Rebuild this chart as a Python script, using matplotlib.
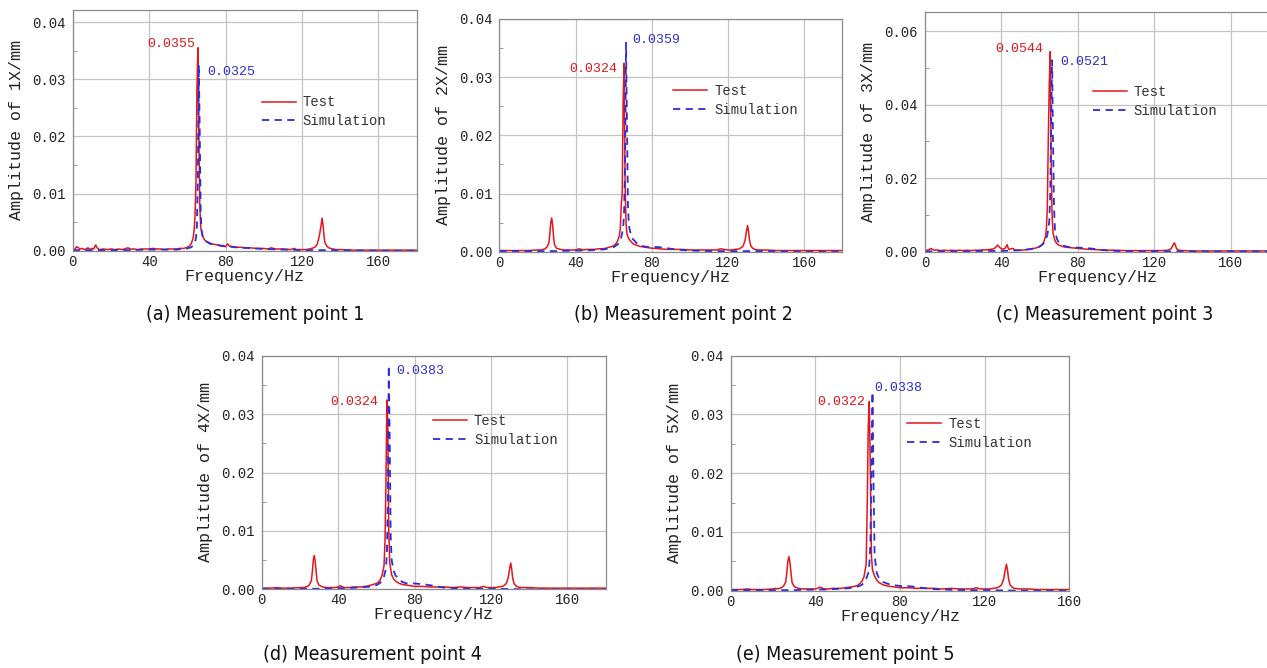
import matplotlib
matplotlib.use("Agg")
import matplotlib.pyplot as plt
from matplotlib.ticker import MultipleLocator, FormatStrFormatter

# ---- data (frequency in Hz, amplitude in mm) ----
a_test_f = [0, 1, 2, 3, 4, 5, 6, 7, 8, 9, 10, 11, 12, 13, 14, 16, 18, 20, 22, 24, 26, 28, 29, 30,
            32, 34, 36, 38, 40, 42, 44, 46, 48, 50, 52, 54, 56, 58, 60, 61, 62, 63, 63.5, 64, 64.5,
            65, 65.5, 66, 66.5, 67, 68, 69, 70, 72, 74, 76, 78, 80, 81, 82, 84, 86, 88, 90, 93, 96,
            100, 102, 104, 106, 110, 114, 116, 117, 120, 122, 124, 126, 127, 128, 129, 130, 130.5,
            131, 131.5, 132, 133, 134, 136, 138, 140, 145, 150, 160, 170, 180]
a_test_amp = [0.0003, 0.0002, 0.0007, 0.0005, 0.0003, 0.0004, 0.0002, 0.0003, 0.0005, 0.0002, 0.0004,
              0.0003, 0.0010, 0.0004, 0.0002, 0.0003, 0.0002, 0.0003, 0.0002, 0.0003, 0.0002, 0.0004,
              0.0005, 0.0003, 0.0003, 0.0002, 0.0003, 0.0003, 0.0003, 0.0004, 0.0003, 0.0003, 0.0002,
              0.0003, 0.0003, 0.0003, 0.0004, 0.0004, 0.0006, 0.0008, 0.0012, 0.0022, 0.0035, 0.0060,
              0.0120, 0.0280, 0.0355, 0.0200, 0.0080, 0.0040, 0.0025, 0.0019, 0.0016, 0.0013, 0.0011,
              0.0010, 0.0008, 0.0007, 0.0012, 0.0008, 0.0007, 0.0006, 0.0006, 0.0005, 0.0005, 0.0004,
              0.0004, 0.0003, 0.0005, 0.0003, 0.0003, 0.0002, 0.0004, 0.0002, 0.0002, 0.0002, 0.0003,
              0.0005, 0.0007, 0.0012, 0.0025, 0.0045, 0.0057, 0.0045, 0.0025, 0.0014, 0.0008, 0.0005,
              0.0003, 0.0002, 0.0002, 0.0001, 0.0001, 0.0001, 0.0001, 0.0001]
a_sim_f = [0, 10, 20, 30, 40, 50, 55, 57, 58, 59, 60, 62, 63, 64, 64.5, 65, 65.5, 66, 66.5, 67, 67.5,
           68, 69, 70, 72, 75, 80, 85, 90, 95, 100, 110, 120, 130, 140, 160, 180]
a_sim_amp = [0.0001, 0.0001, 0.0001, 0.0001, 0.0002, 0.0002, 0.0002, 0.0004, 0.0004, 0.0003, 0.0004,
             0.0006, 0.0009, 0.0015, 0.0022, 0.0045, 0.0130, 0.0325, 0.0200, 0.0060, 0.0035, 0.0025,
             0.0019, 0.0016, 0.0012, 0.0010, 0.0008, 0.0006, 0.0005, 0.0004, 0.0003, 0.0002, 0.0001,
             0.0001, 0.0001, 0.0000, 0.0000]

b_test_f = [0, 5, 10, 15, 20, 22, 24, 25, 26, 26.5, 27, 27.5, 28, 28.5, 29, 30, 32, 34, 36, 38, 40,
            41, 42, 43, 44, 46, 48, 50, 52, 54, 56, 58, 60, 61, 62, 63, 63.5, 64, 64.5, 65, 65.5,
            66, 66.5, 67, 68, 69, 70, 72, 74, 76, 78, 80, 84, 88, 92, 96, 100, 104, 108, 112, 114,
            116, 118, 120, 122, 124, 126, 127, 128, 129, 129.7, 130.3, 130.8, 131.3, 132, 133, 134,
            136, 140, 145, 150, 160, 170, 180]
b_test_amp = [0.0002, 0.0002, 0.0002, 0.0002, 0.0003, 0.0003, 0.0005, 0.0008, 0.0015, 0.0030, 0.0050,
              0.0058, 0.0045, 0.0025, 0.0012, 0.0006, 0.0004, 0.0003, 0.0003, 0.0003, 0.0003, 0.0004,
              0.0005, 0.0004, 0.0003, 0.0004, 0.0004, 0.0004, 0.0005, 0.0005, 0.0006, 0.0008, 0.0010,
              0.0013, 0.0018, 0.0028, 0.0040, 0.0080, 0.0100, 0.0260, 0.0324, 0.0120, 0.0050, 0.0030,
              0.0022, 0.0018, 0.0014, 0.0011, 0.0009, 0.0008, 0.0007, 0.0006, 0.0005, 0.0004, 0.0004,
              0.0004, 0.0003, 0.0003, 0.0003, 0.0003, 0.0003, 0.0005, 0.0004, 0.0003, 0.0003, 0.0004,
              0.0005, 0.0007, 0.0010, 0.0020, 0.0035, 0.0045, 0.0035, 0.0020, 0.0010, 0.0006, 0.0004,
              0.0003, 0.0003, 0.0002, 0.0002, 0.0002, 0.0002, 0.0002]
b_sim_f = [0, 10, 20, 30, 40, 45, 50, 55, 58, 60, 62, 63, 64, 65, 65.5, 66, 66.5, 67, 67.5, 68, 69,
           70, 72, 74, 76, 78, 80, 83, 86, 90, 95, 100, 110, 120, 140, 160, 180]
b_sim_amp = [0.0001, 0.0001, 0.0001, 0.0001, 0.0002, 0.0002, 0.0003, 0.0004, 0.0006, 0.0008, 0.0012,
             0.0016, 0.0025, 0.0040, 0.0070, 0.0150, 0.0359, 0.0220, 0.0080, 0.0045, 0.0030, 0.0022,
             0.0015, 0.0011, 0.0009, 0.0008, 0.0008, 0.0008, 0.0007, 0.0005, 0.0003, 0.0002, 0.0001,
             0.0001, 0.0001, 0.0000, 0.0000]

c_test_f = [0, 1, 2, 3, 4, 5, 6, 8, 10, 12, 14, 16, 18, 20, 22, 24, 26, 28, 30, 32, 34, 36, 37, 38,
            39, 40, 41, 42, 43, 43.5, 44, 45, 46, 47, 48, 50, 52, 54, 56, 58, 60, 61, 62, 63, 63.5,
            64, 64.5, 65, 65.5, 66, 66.5, 67, 68, 69, 70, 72, 74, 76, 78, 80, 84, 88, 92, 96, 100,
            105, 110, 115, 120, 124, 127, 128, 129, 130, 130.5, 131, 131.5, 132, 133, 135, 140, 150,
            160, 170, 180]
c_test_amp = [0.0003, 0.0004, 0.0005, 0.0009, 0.0006, 0.0004, 0.0005, 0.0003, 0.0004, 0.0003, 0.0004,
              0.0003, 0.0004, 0.0003, 0.0004, 0.0003, 0.0004, 0.0004, 0.0005, 0.0005, 0.0006, 0.0008,
              0.0012, 0.0018, 0.0012, 0.0008, 0.0007, 0.0010, 0.0019, 0.0010, 0.0006, 0.0008, 0.0009,
              0.0005, 0.0004, 0.0004, 0.0005, 0.0006, 0.0008, 0.0010, 0.0014, 0.0018, 0.0025, 0.0040,
              0.0060, 0.0120, 0.0300, 0.0450, 0.0544, 0.0250, 0.0100, 0.0050, 0.0030, 0.0022, 0.0018,
              0.0014, 0.0012, 0.0011, 0.0010, 0.0009, 0.0007, 0.0006, 0.0005, 0.0004, 0.0004, 0.0003,
              0.0003, 0.0003, 0.0003, 0.0003, 0.0004, 0.0006, 0.0010, 0.0020, 0.0024, 0.0018, 0.0010,
              0.0006, 0.0004, 0.0003, 0.0002, 0.0002, 0.0002, 0.0002, 0.0002]
c_sim_f = [0, 10, 20, 30, 40, 45, 50, 55, 58, 60, 62, 63, 64, 65, 65.5, 66, 66.5, 67, 67.5, 68, 69,
           70, 72, 74, 76, 78, 80, 84, 88, 92, 96, 100, 110, 120, 140, 160, 180]
c_sim_amp = [0.0001, 0.0001, 0.0001, 0.0002, 0.0002, 0.0003, 0.0004, 0.0007, 0.0010, 0.0014, 0.0022,
             0.0030, 0.0045, 0.0080, 0.0150, 0.0350, 0.0521, 0.0300, 0.0120, 0.0060, 0.0035, 0.0025,
             0.0017, 0.0014, 0.0012, 0.0011, 0.0011, 0.0010, 0.0008, 0.0005, 0.0003, 0.0002, 0.0001,
             0.0001, 0.0001, 0.0001, 0.0001]

d_test_f = [0, 5, 8, 10, 15, 20, 22, 24, 25, 26, 26.5, 27, 27.5, 28, 28.5, 29, 30, 32, 34, 36, 38,
            40, 41, 42, 43, 44, 46, 48, 50, 52, 54, 56, 58, 60, 61, 62, 63, 64, 64.5, 65, 65.5, 66,
            66.5, 67, 68, 69, 70, 72, 74, 76, 78, 80, 84, 88, 92, 96, 100, 104, 108, 112, 114, 116,
            118, 120, 122, 124, 126, 127, 128, 129, 129.7, 130.3, 130.8, 131.3, 132, 133, 134, 136,
            140, 145, 150, 160, 170, 180]
d_test_amp = [0.0002, 0.0002, 0.0003, 0.0002, 0.0002, 0.0003, 0.0003, 0.0005, 0.0008, 0.0015, 0.0030,
              0.0050, 0.0058, 0.0048, 0.0030, 0.0014, 0.0007, 0.0004, 0.0003, 0.0003, 0.0003, 0.0004,
              0.0006, 0.0005, 0.0003, 0.0003, 0.0003, 0.0004, 0.0004, 0.0004, 0.0005, 0.0006, 0.0008,
              0.0010, 0.0012, 0.0016, 0.0024, 0.0040, 0.0080, 0.0180, 0.0324, 0.0280, 0.0100, 0.0045,
              0.0025, 0.0018, 0.0014, 0.0010, 0.0008, 0.0007, 0.0006, 0.0005, 0.0005, 0.0004, 0.0004,
              0.0004, 0.0003, 0.0004, 0.0003, 0.0003, 0.0003, 0.0005, 0.0003, 0.0003, 0.0003, 0.0004,
              0.0005, 0.0007, 0.0010, 0.0020, 0.0035, 0.0045, 0.0035, 0.0020, 0.0010, 0.0006, 0.0004,
              0.0003, 0.0003, 0.0002, 0.0002, 0.0002, 0.0002, 0.0002]
d_sim_f = [0, 10, 20, 30, 40, 45, 50, 55, 58, 60, 62, 63, 64, 65, 65.5, 66, 66.5, 67, 67.5, 68, 69,
           70, 72, 74, 76, 78, 80, 83, 86, 90, 95, 100, 110, 120, 140, 160, 180]
d_sim_amp = [0.0001, 0.0001, 0.0001, 0.0001, 0.0002, 0.0002, 0.0003, 0.0004, 0.0005, 0.0007, 0.0011,
             0.0015, 0.0022, 0.0035, 0.0060, 0.0150, 0.0383, 0.0250, 0.0090, 0.0050, 0.0032, 0.0024,
             0.0016, 0.0012, 0.0010, 0.0010, 0.0010, 0.0009, 0.0008, 0.0006, 0.0003, 0.0002, 0.0001,
             0.0001, 0.0000, 0.0000, 0.0000]

e_test_f = [0, 5, 8, 10, 15, 20, 21, 22, 24, 25, 26, 26.5, 27, 27.5, 28, 28.5, 29, 30, 32, 34, 36,
            38, 40, 41, 42, 43, 44, 46, 48, 50, 52, 54, 56, 58, 60, 61, 62, 63, 64, 64.5, 65, 65.5,
            66, 66.5, 67, 68, 69, 70, 72, 74, 76, 78, 80, 84, 88, 92, 96, 100, 104, 108, 112, 114,
            116, 118, 120, 122, 124, 126, 127, 128, 129, 129.7, 130.3, 130.8, 131.3, 132, 133, 134,
            136, 140, 145, 150, 160]
e_test_amp = [0.0002, 0.0002, 0.0003, 0.0002, 0.0002, 0.0003, 0.0004, 0.0003, 0.0005, 0.0008, 0.0015,
              0.0030, 0.0050, 0.0058, 0.0048, 0.0030, 0.0014, 0.0007, 0.0004, 0.0003, 0.0003, 0.0003,
              0.0003, 0.0004, 0.0006, 0.0005, 0.0003, 0.0003, 0.0004, 0.0004, 0.0004, 0.0005, 0.0006,
              0.0007, 0.0009, 0.0012, 0.0016, 0.0024, 0.0045, 0.0140, 0.0280, 0.0322, 0.0200, 0.0060,
              0.0035, 0.0025, 0.0018, 0.0014, 0.0010, 0.0008, 0.0007, 0.0006, 0.0005, 0.0005, 0.0004,
              0.0004, 0.0004, 0.0003, 0.0004, 0.0003, 0.0003, 0.0003, 0.0005, 0.0003, 0.0003, 0.0003,
              0.0004, 0.0005, 0.0007, 0.0010, 0.0020, 0.0035, 0.0045, 0.0035, 0.0020, 0.0010, 0.0006,
              0.0004, 0.0003, 0.0003, 0.0002, 0.0002, 0.0002]
e_sim_f = [0, 10, 20, 30, 40, 45, 50, 55, 58, 60, 62, 63, 64, 65, 65.5, 66, 66.5, 67, 67.5, 68, 69,
           70, 72, 74, 76, 78, 80, 83, 86, 90, 95, 100, 110, 120, 140, 160]
e_sim_amp = [0.0001, 0.0001, 0.0001, 0.0001, 0.0002, 0.0002, 0.0003, 0.0004, 0.0005, 0.0007, 0.0010,
             0.0014, 0.0020, 0.0030, 0.0045, 0.0080, 0.0200, 0.0338, 0.0180, 0.0060, 0.0030, 0.0022,
             0.0015, 0.0012, 0.0010, 0.0009, 0.0008, 0.0008, 0.0007, 0.0005, 0.0003, 0.0002, 0.0001,
             0.0001, 0.0000, 0.0000]

ylabels = ["Amplitude of 1X/mm", "Amplitude of 2X/mm", "Amplitude of 3X/mm",
           "Amplitude of 4X/mm", "Amplitude of 5X/mm"]
captions = ["(a) Measurement point 1", "(b) Measurement point 2", "(c) Measurement point 3",
            "(d) Measurement point 4", "(e) Measurement point 5"]
xmax = [180, 180, 180, 180, 160]
ymax = [0.0421, 0.04, 0.0651, 0.04, 0.04]
ystep = [0.01, 0.01, 0.02, 0.01, 0.01]

# layout in pixels: axes box (left, top, right, bottom), legend anchor, label offsets, caption
W, H = 1267, 668
boxes = [(72.7, 10, 416.7, 250.7), (499.3, 19, 842.3, 251.7), (925, 12.3, 1269, 251.7),
         (261.7, 355.7, 605.7, 589.3), (730.7, 355.7, 1069.3, 590.7)]
leg_pos = [(0.55, 0.577), (0.507, 0.65), (0.488, 0.627), (0.498, 0.68), (0.521, 0.67)]
red_off = [(-3, 4), (-7, -6), (-7, 3), (-9, -2), (-4, 0)]
blue_off = [(8, -7), (6, 3), (8, -2), (7, -5), (2, 4)]
cap_pos = [(255, 314), (683, 314), (1105, 314), (372, 655), (845, 655)]

RED = "#e3161c"
BLUE = "#2d2dd6"
MONO = "Liberation Mono"

fig = plt.figure(figsize=(W / 100, H / 100), dpi=100)

panels = [(a_test_f, a_test_amp, a_sim_f, a_sim_amp),
          (b_test_f, b_test_amp, b_sim_f, b_sim_amp),
          (c_test_f, c_test_amp, c_sim_f, c_sim_amp),
          (d_test_f, d_test_amp, d_sim_f, d_sim_amp),
          (e_test_f, e_test_amp, e_sim_f, e_sim_amp)]

for i, (tf, ta, sf, sa) in enumerate(panels):
    l, t, r, b = boxes[i]
    ax = fig.add_axes([l / W, 1 - b / H, (r - l) / W, (b - t) / H])
    ax.plot(tf, ta, color=RED, lw=1.1, label="Test")
    ax.plot(sf, sa, color=BLUE, lw=1.3, dashes=(4, 3), label="Simulation")
    ax.set_xlim(0, xmax[i])
    ax.set_ylim(0, ymax[i])
    ax.xaxis.set_major_locator(MultipleLocator(40))
    ax.yaxis.set_major_locator(MultipleLocator(ystep[i]))
    ax.yaxis.set_minor_locator(MultipleLocator(ystep[i] / 2))
    ax.yaxis.set_major_formatter(FormatStrFormatter("%.2f"))
    ax.grid(True, color="#c4c4c4", lw=0.9)
    ax.set_axisbelow(True)
    for sp in ax.spines.values():
        sp.set_color("#8a8a8a")
        sp.set_linewidth(0.9)
    ax.tick_params(which="both", direction="in", color="#8a8a8a", labelsize=10, pad=5)
    ax.tick_params(axis="x", pad=3)
    ax.tick_params(which="major", length=0)
    ax.tick_params(which="minor", length=3)
    for lab in ax.get_xticklabels() + ax.get_yticklabels():
        lab.set_family(MONO)
        lab.set_color("#222222")
    ax.set_xlabel("Frequency/Hz", family=MONO, fontsize=12, labelpad=0, color="#222222")
    ax.set_ylabel(ylabels[i], family=MONO, fontsize=12, labelpad=6, color="#222222")

    # peak labels
    k = ta.index(max(ta))
    ax.annotate(f"{ta[k]:.4f}", xy=(tf[k], ta[k]), xytext=red_off[i], textcoords="offset pixels",
                ha="right", va="center", color=RED, family=MONO, fontsize=9.5)
    k = sa.index(max(sa))
    ax.annotate(f"{sa[k]:.4f}", xy=(sf[k], sa[k]), xytext=blue_off[i], textcoords="offset pixels",
                ha="left", va="center", color=BLUE, family=MONO, fontsize=9.5)

    leg = ax.legend(loc="center left", bbox_to_anchor=leg_pos[i], frameon=False,
                    borderaxespad=0, borderpad=0, handlelength=2.45, handletextpad=0.5,
                    labelspacing=0.35, prop={"family": MONO, "size": 10})
    for txt in leg.get_texts():
        txt.set_color("#333333")

    cx, cy = cap_pos[i]
    fig.text(cx / W, 1 - cy / H, captions[i], ha="center", va="center", fontsize=14,
             family="DejaVu Sans", fontstretch="condensed", color="#111111")

fig.savefig("out.png", dpi=100)
